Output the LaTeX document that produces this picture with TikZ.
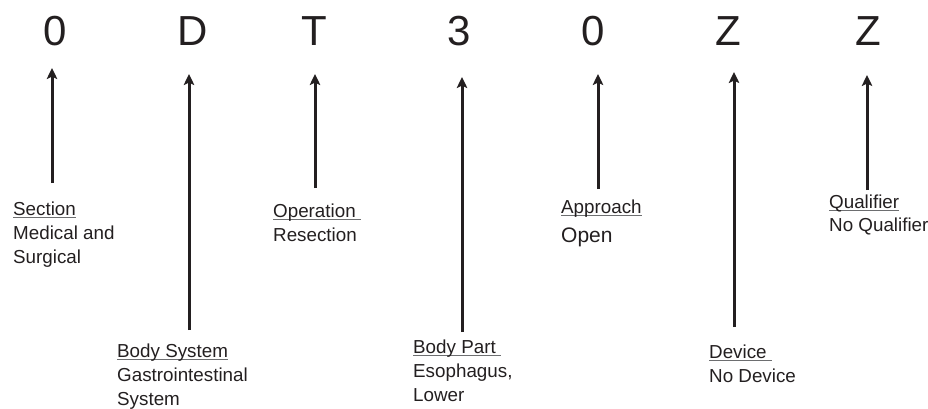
\documentclass[tikz,border=0pt]{standalone}
\usepackage{fontspec}
\setmainfont{Liberation Sans}
\usetikzlibrary{arrows.meta}
\definecolor{ink}{HTML}{231F20}
\definecolor{ulgray}{HTML}{6D6E70}
\newcommand\myul[1]{\setbox0\hbox{#1}\rlap{\color{ulgray}\rule[-2.6pt]{\wd0}{1.1pt}}\box0}
\newcommand\mylbl[3]{\vtop{\baselineskip=24pt\hbox{\myul{#1}}\hbox{#2}\hbox{#3}}}
\begin{document}
\begin{tikzpicture}[x=1pt,y=-1pt,
  code/.style={anchor=base, inner sep=0pt, text=ink, font=\fontsize{42}{48}\selectfont},
  lbl/.style={anchor=base west, inner sep=0pt, text=ink, font=\fontsize{18.8}{24}\selectfont},
  arr/.style={draw=ink, line width=3pt, -{Stealth[length=11pt,width=10.5pt,inset=2.5pt]}}]
\useasboundingbox (0,0) rectangle (928,408);
% code characters
\node[code] (c1) at (55,45) {0};
\node[code] (c2) at (192.5,45) {D};
\node[code] (c3) at (314,45) {T};
\node[code] (c4) at (459,45) {3};
\node[code] (c5) at (593,45) {0};
\node[code] (c6) at (728.5,45) {Z};
\node[code] (c7) at (868.5,45) {Z};
% arrow ends
\coordinate (h1) at (52,68);   \coordinate (t1) at (52,183);
\coordinate (h2) at (189,74);  \coordinate (t2) at (189,330);
\coordinate (h3) at (315,74);  \coordinate (t3) at (315,188);
\coordinate (h4) at (462,77);  \coordinate (t4) at (462,332);
\coordinate (h5) at (598,74);  \coordinate (t5) at (598,189);
\coordinate (h6) at (734,72);  \coordinate (t6) at (734,327);
\coordinate (h7) at (867,75);  \coordinate (t7) at (867,190);
\foreach \i in {1,...,7}{\draw[arr] (t\i) -- (h\i);}
% labels
\node[lbl] (l1) at (13,215.5) {\mylbl{Section}{Medical and}{Surgical}};
\node[lbl] (l2) at (117,357.5) {\mylbl{Body System}{Gastrointestinal}{System}};
\node[lbl] (l3) at (273,217) {\mylbl{Operation\ }{Resection}{}};
\node[lbl] (l4) at (413,353.5) {\mylbl{Body Part\ }{Esophagus,}{Lower}};
\node[lbl] (l5) at (561,213.5) {\vtop{\baselineskip=28.5pt\hbox{\myul{Approach}}\hbox{\fontsize{21}{24}\selectfont Open}}};
\node[lbl] (l6) at (709,358.3) {\mylbl{Device\ }{No Device}{}};
\node[lbl] (l7) at (829,208.3) {\vtop{\baselineskip=23.5pt\hbox{\myul{Qualifier}}\hbox{No Qualifier}}};
\end{tikzpicture}
\end{document}
